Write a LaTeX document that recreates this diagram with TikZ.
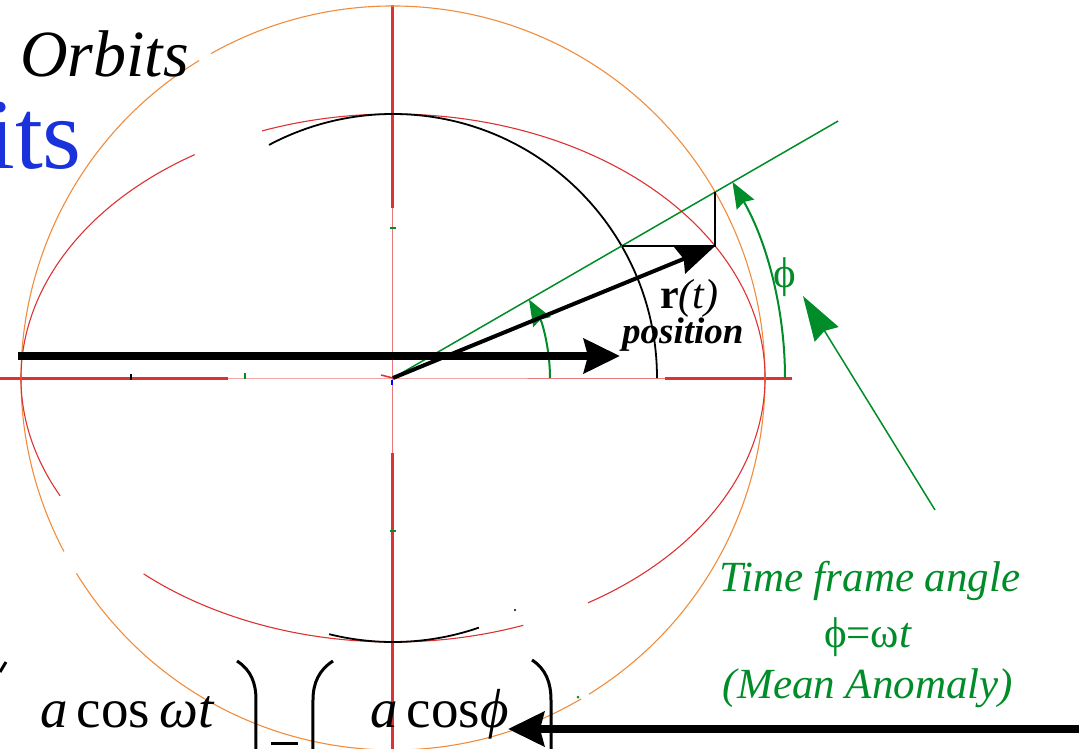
\documentclass[tikz,border=0pt]{standalone}
\usepackage{fontspec}
\setmainfont{Liberation Serif}
\usetikzlibrary{arrows.meta}
\definecolor{orbitred}{RGB}{220,50,50}
\definecolor{orbitorange}{RGB}{240,140,60}
\definecolor{orbitgreen}{RGB}{0,140,40}
\definecolor{orbitblue}{RGB}{25,50,220}
\tikzset{
  axisthick/.style={draw=orbitred, line width=3pt},
  axisthin/.style={draw=orbitred!65, line width=1pt},
  ellipseline/.style={draw=orbitred, line width=1.1pt},
  circleline/.style={draw=orbitorange, line width=1.1pt},
  auxcircle/.style={draw=black, line width=1.8pt},
  greenline/.style={draw=orbitgreen, line width=1.5pt},
  greenarc/.style={draw=orbitgreen, line width=2pt,
    -{Stealth[length=26pt, width=20pt, inset=3pt]}},
  bigarrow/.style={line width=8pt,
    -{Stealth[length=36pt, width=34pt, inset=4pt]}},
  radarrow/.style={line width=4pt,
    -{Stealth[length=38pt, width=28pt, inset=4pt]}},
  bracket/.style={draw=black, line width=3pt},
  greentext/.style={text=orbitgreen, inner sep=0pt,
    font=\fontsize{43}{50}\selectfont},
  bodytext/.style={inner sep=0pt, anchor=base west}
}

\begin{document}
\begin{tikzpicture}[x=1pt, y=1pt]
  \useasboundingbox (-393,-370) rectangle (686,378);

  \coordinate (O) at (0,0);
  \coordinate (P) at (30:372 and 264);
  \coordinate (Q) at (30:372);
  \coordinate (C) at (30:264);
  \coordinate (G) at (30:514);

  % axes
  \draw[axisthick] (0,373) -- (0,170);
  \draw[axisthin] (0,170) -- (0,-75);
  \draw[axisthick] (0,-75) -- (0,-372);
  \draw[axisthick] (-395,0) -- (-165,0);
  \draw[axisthin] (-165,0) -- (O) -- (272,0);
  \draw[axisthick] (272,0) -- (399,0);

  % circle, ellipse and inner circle (pieces)
  \foreach \a/\b in {-58.2/119.3, 121.4/207.8, 211.7/300.4}
    \draw[circleline] (\a:372) arc[start angle=\a, end angle=\b, radius=372];
  \foreach \a/\b in {-58.4/110.6, 122.2/206.5, 227.9/290.5}
    \draw[ellipseline] (\a:372 and 264)
      arc[start angle=\a, end angle=\b, x radius=372, y radius=264];
  \foreach \a/\b in {0/118, 256/289}
    \draw[auxcircle] (\a:264) arc[start angle=\a, end angle=\b, radius=264];

  % small marks
  \draw[black, line width=2pt] (-262,-2) -- (-262,4);
  \draw[orbitgreen, line width=2pt] (-148,-1) -- (-148,5);
  \draw[orbitgreen, line width=2pt] (-3,150) -- (3,150);
  \draw[orbitgreen, line width=2pt] (-3,-153) -- (3,-153);
  \draw[orbitred, line width=1.5pt] (-12,3) -- (O);
  \draw[blue, line width=1.5pt] (-1,-2) -- (-1,-7);
  \fill (122,-232) circle (1.2pt);
  \fill[orbitgreen] (185,-319) circle (1.5pt);

  % construction
  \draw[greenline] (O) -- (G);
  \draw[black, line width=1.5pt] (Q) -- (P) -- (C);
  \draw[greenarc] (157,0) arc[start angle=0, end angle=30, radius=157];
  \draw[greenarc] (392,0) arc[start angle=0, end angle=30, radius=392];
  \draw[radarrow] (O) -- (P);

  \coordinate (htail) at (-375,22);
  \coordinate (hhead) at (227,22);
  \draw[bigarrow] (htail) -- (hhead);

  \coordinate (ptail) at (542,-132);
  \coordinate (phead) at (410,82);
  \draw[greenline, -{Stealth[length=45pt, width=28pt, inset=4pt]}]
    (ptail) -- (phead);

  \coordinate (btail) at (690,-351);
  \coordinate (bhead) at (115,-351);
  \draw[bigarrow] (btail) -- (bhead);

  % labels
  \node[bodytext, font=\fontsize{66}{70}\selectfont\itshape] (title)
    at (-373,302) {Orbits};
  \node[inner sep=0pt, anchor=base east, text=orbitblue,
    font=\fontsize{100}{110}\selectfont] (bigtitle) at (-311,210) {its};
  \node[bodytext, font=\fontsize{42}{46}\selectfont] (rlabel)
    at (267,70) {\textbf{r}\textit{(t)}};
  \node[bodytext, font=\fontsize{37}{40}\selectfont\bfseries\itshape]
    (poslabel) at (229,35) {position};
  \node[greentext, anchor=base] (philabel) at (392,91) {ϕ};

  \node[greentext, anchor=base] (tf1) at (477,-213)
    {\itshape Time frame angle};
  \node[greentext, anchor=base] (tf2) at (475,-269) {ϕ=ω\textit{t}};
  \node[greentext, anchor=base] (tf3) at (475,-320)
    {\itshape (Mean Anomaly)};

  % matrix entries
  \node[bodytext, font=\fontsize{55}{60}\selectfont] (mleft)
    at (-353,-349) {\textit{a}\,cos\,\textit{ωt}};
  \node[bodytext, font=\fontsize{55}{60}\selectfont] (mright)
    at (-23,-349) {\textit{a}\,cos\textit{ϕ}};
  \draw[bracket] (-387,-284) -- (-393,-294);
  \draw[bracket] (-156,-283) .. controls (-142,-292) and (-137,-305)
    .. (-137,-322) -- (-137,-372);
  \draw[bracket] (-122,-365) -- (-95,-365);
  \draw[bracket] (-60,-283) .. controls (-74,-292) and (-80,-305)
    .. (-80,-322) -- (-80,-372);
  \draw[bracket] (139,-282) .. controls (153,-291) and (158,-305)
    .. (158,-322) -- (158,-372);
\end{tikzpicture}
\end{document}
